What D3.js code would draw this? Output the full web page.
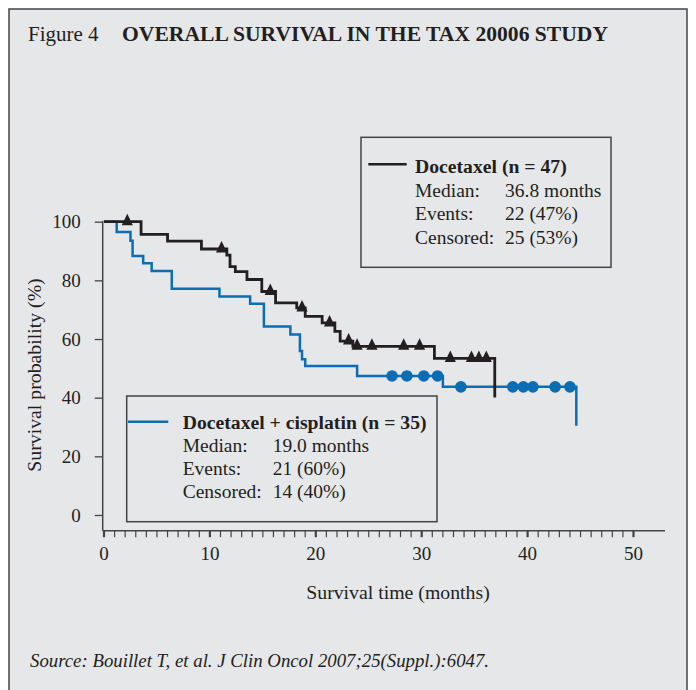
<!DOCTYPE html>
<html>
<head>
<meta charset="utf-8">
<script src="https://cdn.jsdelivr.net/npm/d3@7"></script>
<style>
  html, body { margin: 0; padding: 0; background: #ffffff; }
  svg { display: block; }
  text { font-family: "Liberation Serif", "Times New Roman", Times, serif; fill: #231f20; }
</style>
</head>
<body>
<svg id="chart" width="696" height="690"></svg>
<script>
// Kaplan-Meier steps: [month, survival %]
const docetaxelSteps = [
  [0, 100], [3.5, 95.7], [6.0, 93.4], [9.2, 90.7], [11.6, 88.6], [11.9, 84.7],
  [12.4, 83.0], [13.5, 80.3], [14.9, 76.2], [16.2, 72.3], [18.2, 70.6],
  [19.0, 67.7], [20.6, 65.5], [21.8, 62.6], [22.3, 59.3], [23.5, 57.5],
  [31.2, 53.4], [36.9, 40.1]
];
const docetaxelCensored = [2.2, 11.1, 15.7, 18.7, 21.3, 23.1, 23.9, 25.3, 28.3, 29.8, 32.7, 34.7, 35.4, 36.1];

const comboSteps = [
  [0, 100], [1.2, 96.5], [2.5, 93.5], [2.7, 88.3], [3.7, 85.8], [4.5, 83.2],
  [6.4, 77.1], [10.9, 74.5], [13.8, 72.0], [15.1, 64.3], [17.6, 61.5],
  [18.5, 55.9], [18.7, 53.1], [19.0, 50.8], [23.9, 47.4], [32.0, 43.7],
  [44.6, 30.4]
];
const comboCensored = [27.2, 28.6, 30.2, 31.5, 33.7, 38.6, 39.6, 40.5, 42.6, 44.0];

const xTickValues = [0, 10, 20, 30, 40, 50];
const yTickValues = [0, 20, 40, 60, 80, 100];

const docetaxelLegend = ["Docetaxel (n = 47)", ["Median:", "36.8 months"], ["Events:", "22 (47%)"], ["Censored:", "25 (53%)"]];
const comboLegend = ["Docetaxel + cisplatin (n = 35)", ["Median:", "19.0 months"], ["Events:", "21 (60%)"], ["Censored:", "14 (40%)"]];

const BLACK = "#231f20";
const BLUE = "#0b6db4";
const FRAME = "#444446";

const svg = d3.select("#chart");

// Panel background and frame
svg.append("rect").attr("x", 9).attr("y", 9).attr("width", 678).attr("height", 700)
  .attr("fill", "#e6e7e9").attr("stroke", FRAME).attr("stroke-width", 1.5);

// Heading
svg.append("text").attr("x", 28).attr("y", 41).attr("font-size", 21).text("Figure 4");
svg.append("text").attr("x", 122).attr("y", 41).attr("font-size", 21.6).attr("font-weight", "bold")
  .text("OVERALL SURVIVAL IN THE TAX 20006 STUDY");

// Scales
const x = d3.scaleLinear().domain([0, 50]).range([104, 633.5]);
const y = d3.scaleLinear().domain([0, 100]).range([515, 221.7]);

const axisY0 = 530.7;  // x-axis baseline
const axisX0 = 102.7;  // y-axis line

// Y axis
const yAxis = svg.append("g").attr("transform", `translate(${axisX0},0)`)
  .call(d3.axisLeft(y).tickValues(yTickValues).tickSize(8).tickPadding(14));
yAxis.select(".domain").remove();
yAxis.append("line").attr("x1", 0).attr("x2", 0).attr("y1", y(100) - 1).attr("y2", axisY0)
  .attr("stroke", FRAME).attr("stroke-width", 1.5);
yAxis.selectAll(".tick line").attr("stroke", FRAME).attr("stroke-width", 1.3);
yAxis.selectAll(".tick text").attr("font-size", 19).attr("fill", BLACK)
  .attr("font-family", "Liberation Serif, Times New Roman, serif");

// X axis: line with a tick every month, heavier every ten
const xAxis = svg.append("g").attr("transform", `translate(0,${axisY0})`);
xAxis.append("line").attr("x1", axisX0).attr("x2", 665).attr("y1", 0).attr("y2", 0)
  .attr("stroke", FRAME).attr("stroke-width", 1.5);
xAxis.selectAll("line.minor").data(d3.range(0, 51)).join("line")
  .attr("class", "minor")
  .attr("x1", d => x(d)).attr("x2", d => x(d)).attr("y1", 0).attr("y2", 6.5)
  .attr("stroke", FRAME).attr("stroke-width", d => d % 10 === 0 ? 2.2 : 1.2);
xAxis.selectAll("text").data(xTickValues).join("text")
  .attr("x", d => x(d)).attr("y", 29).attr("text-anchor", "middle").attr("font-size", 19)
  .text(d => d);

// Axis titles
svg.append("text").attr("x", 398).attr("y", 599).attr("text-anchor", "middle").attr("font-size", 19.8)
  .text("Survival time (months)");
svg.append("text").attr("transform", "translate(40.5,375) rotate(-90)").attr("text-anchor", "middle")
  .attr("font-size", 19.8).text("Survival probability (%)");

// Survival curves
const line = d3.line().x(d => x(d[0])).y(d => y(d[1])).curve(d3.curveStepAfter);
const survivalAt = (steps, t) => {
  const i = d3.bisector(d => d[0]).right(steps, t) - 1;
  return steps[Math.max(0, i)][1];
};

svg.append("path").datum(comboSteps).attr("d", line)
  .attr("fill", "none").attr("stroke", BLUE).attr("stroke-width", 2.5).attr("stroke-linejoin", "miter");
svg.append("path").datum(docetaxelSteps).attr("d", line)
  .attr("fill", "none").attr("stroke", BLACK).attr("stroke-width", 2.8).attr("stroke-linejoin", "miter");

// Censoring marks
svg.selectAll("circle.cens").data(comboCensored).join("circle")
  .attr("class", "cens")
  .attr("cx", d => x(d)).attr("cy", d => y(survivalAt(comboSteps, d)))
  .attr("r", 5.8).attr("fill", BLUE);

// Triangles sit on the curve, apex above it
const triPath = "M0,-8L5.6,3.5L-5.6,3.5Z";
svg.selectAll("path.cens").data(docetaxelCensored).join("path")
  .attr("class", "cens")
  .attr("transform", d => `translate(${x(d)},${y(survivalAt(docetaxelSteps, d))})`)
  .attr("d", triPath).attr("fill", BLACK);

// Legends
function legend(box, lineSeg, color, textX, baseY, gap, rows) {
  const g = svg.append("g");
  g.append("rect").attr("x", box[0]).attr("y", box[1]).attr("width", box[2] - box[0]).attr("height", box[3] - box[1])
    .attr("fill", "none").attr("stroke", FRAME).attr("stroke-width", 1.5);
  g.append("line").attr("x1", lineSeg[0]).attr("x2", lineSeg[1]).attr("y1", lineSeg[2]).attr("y2", lineSeg[2])
    .attr("stroke", color).attr("stroke-width", 2.6);
  g.append("text").attr("x", textX).attr("y", baseY).attr("font-size", 19.7).attr("font-weight", "bold").text(rows[0]);
  rows.slice(1).forEach((r, i) => {
    g.append("text").attr("x", textX).attr("y", baseY + gap * (i + 1)).attr("font-size", 19.5).text(r[0]);
    g.append("text").attr("x", textX + 90).attr("y", baseY + gap * (i + 1)).attr("font-size", 19.5).text(r[1]);
  });
}
legend([361, 137.3, 611, 267.3], [368.3, 406.7, 164.3], BLACK, 415, 173, 23.5, docetaxelLegend);
legend([126.7, 396, 437, 521.7], [128, 168.3, 421.7], BLUE, 182.7, 428.5, 23, comboLegend);

// Source note
svg.append("text").attr("x", 30).attr("y", 667).attr("font-size", 18.8).attr("font-style", "italic")
  .text("Source: Bouillet T, et al. J Clin Oncol 2007;25(Suppl.):6047.");
</script>
</body>
</html>
